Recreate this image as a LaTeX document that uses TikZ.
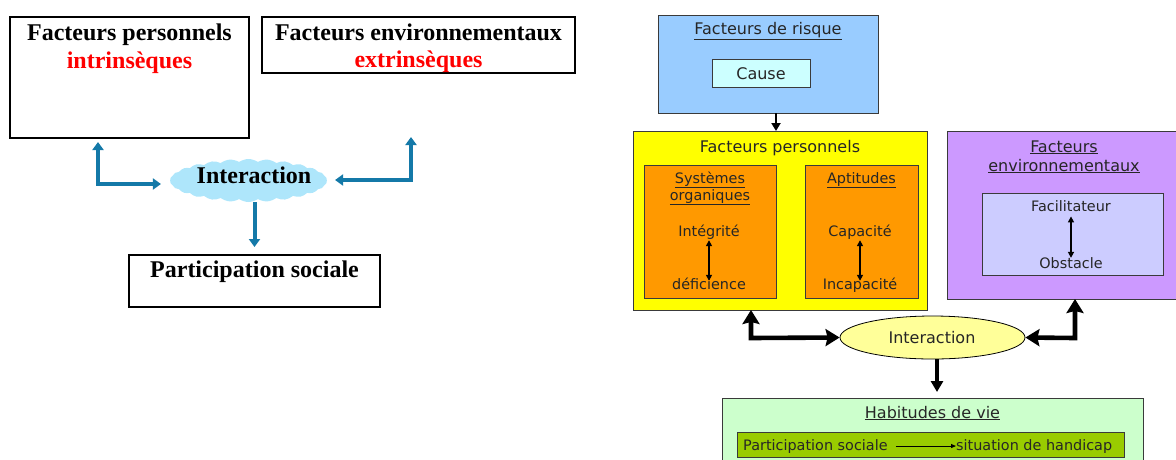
\documentclass[tikz,border=0pt]{standalone}
\usepackage{fontspec}
\setmainfont{Liberation Serif}
\newfontfamily\sansf{DejaVu Sans}
\usetikzlibrary{shapes.geometric,shapes.symbols,arrows.meta}
\definecolor{bluearr}{HTML}{1479A8}
\definecolor{cloudc}{HTML}{AEE6FB}
\definecolor{risk}{HTML}{99CCFF}
\definecolor{causec}{HTML}{CCFFFF}
\definecolor{yel}{HTML}{FFFF00}
\definecolor{orng}{HTML}{FF9900}
\definecolor{purp}{HTML}{CC99FF}
\definecolor{facc}{HTML}{CCCCFF}
\definecolor{ellc}{HTML}{FFFF99}
\definecolor{habc}{HTML}{CCFFCC}
\definecolor{grnc}{HTML}{99CC00}
\definecolor{txt}{HTML}{262626}
\definecolor{bord}{HTML}{3A3A3A}
\begin{document}
\begin{tikzpicture}[x=1pt,y=-1pt,
  lbox/.style={draw=black,line width=2pt,inner sep=0pt,outer sep=0pt,anchor=north west},
  rbox/.style={draw=bord,line width=0.8pt,inner sep=0pt,outer sep=0pt,anchor=north west},
  ltxt/.style={inner sep=0pt,anchor=base,font=\fontsize{24}{28}\selectfont\bfseries},
  htxt/.style={inner sep=0pt,anchor=base,text=txt,font=\sansf\fontsize{16}{19}\selectfont},
  itxt/.style={inner sep=0pt,anchor=base,text=txt,font=\sansf\fontsize{14.4}{17}\selectfont},
  btip/.tip={Triangle[length=8pt,width=11pt]},
  barrow/.style={draw=bluearr,line width=4pt},
  ktip/.tip={Stealth[length=14pt,width=17pt,inset=2pt]},
  bigarrow/.style={draw=black,line width=4.6pt,ktip-ktip},
  smallarrow/.style={draw=black,line width=1.6pt,{Triangle[length=6pt,width=6pt]}-{Triangle[length=6pt,width=6pt]}}
]
\useasboundingbox (0,0) rectangle (1176,459);
\clip (0,0) rectangle (1176,459);

% ---------- left diagram ----------
\node[lbox,minimum width=239pt,minimum height=121pt] (b1) at (10,17) {};
\node[lbox,minimum width=313pt,minimum height=56pt] (b2) at (262,17) {};
\node[lbox,minimum width=251pt,minimum height=52pt] (b3) at (129,255) {};
\node[ltxt] (t1a) at (129.5,40) {Facteurs personnels};
\node[ltxt,text=red] (t1b) at (129.5,68) {intrinsèques};
\node[ltxt] (t2a) at (418.5,40) {Facteurs environnementaux};
\node[ltxt,text=red] (t2b) at (418.5,67) {extrinsèques};
\node[ltxt] (t3) at (254.5,277) {Participation sociale};
\node[cloud,cloud puffs=26,cloud puff arc=70,aspect=3.6,fill=cloudc,
      minimum width=157pt,minimum height=43pt,inner sep=0pt] (cl) at (248.5,180.5) {};
\node[ltxt] (clt) at (254,183) {Interaction};
\coordinate (l1top) at (98,142);
\coordinate (l1) at (98,184);
\coordinate (r1top) at (411,137);
\coordinate (r1) at (411,180);
\draw[barrow,btip-btip] (l1top) -- (l1) -- ([xshift=-9pt]cl.west |- l1);
\draw[barrow,btip-btip] (r1top) -- (r1) -- ([xshift=8pt]cl.east |- r1);
\draw[barrow,-btip] (cl.south -| b3.north) -- ([yshift=8pt]b3.north);

% ---------- right diagram ----------
\node[rbox,fill=risk,minimum width=220pt,minimum height=98pt] (fdr) at (658,15) {};
\node[rbox,fill=causec,minimum width=98pt,minimum height=28pt] (cause) at (712,59) {};
\node[htxt] (fdrt) at (768,34) {\underline{Facteurs de risque}};
\node[htxt] (causet) at (761,79) {Cause};

\node[rbox,fill=yel,minimum width=294pt,minimum height=179pt] (yb) at (633,131) {};
\node[htxt] (ybt) at (780,152) {Facteurs personnels};
\node[rbox,fill=orng,minimum width=132pt,minimum height=133pt] (sys) at (644,165) {};
\node[rbox,fill=orng,minimum width=113pt,minimum height=133pt] (apt) at (805,165) {};
\node[itxt] (syst1) at (710,183) {\underline{Systèmes}};
\node[itxt] (syst2) at (710,200) {\underline{organiques}};
\node[itxt] (integ) at (709,236) {Intégrité};
\node[itxt] (defic) at (709,289) {déficience};
\node[itxt] (aptt) at (861.5,183) {\underline{Aptitudes}};
\node[itxt] (capa) at (860,236) {Capacité};
\node[itxt] (incapa) at (860,289) {Incapacité};

\node[rbox,fill=purp,minimum width=240pt,minimum height=168pt] (env) at (947,131) {};
\node[htxt] (envt1) at (1064,152) {\underline{Facteurs}};
\node[htxt] (envt2) at (1064,171) {\underline{environnementaux}};
\node[rbox,fill=facc,minimum width=181pt,minimum height=82pt] (fac) at (982,193) {};
\node[itxt] (fact) at (1071,211) {Facilitateur};
\node[itxt] (obst) at (1071,268) {Obstacle};

\node[ellipse,draw=black,line width=0.8pt,fill=ellc,minimum width=185pt,minimum height=43pt,inner sep=0pt] (inter) at (932.5,337.5) {};
\node[htxt] (intert) at (932,343) {Interaction};

\node[rbox,fill=habc,minimum width=421pt,minimum height=80pt] (hab) at (722,398) {};
\node[htxt] (habt) at (932.5,418) {\underline{Habitudes de vie}};
\node[rbox,fill=grnc,minimum width=387pt,minimum height=25pt] (grn) at (737,432) {};
\node[itxt,anchor=base west] (ps) at (743,450) {Participation sociale};
\node[itxt,anchor=base west] (sit) at (956,450) {situation de handicap};

% connectors
\draw[draw=black,line width=2.2pt,-{Triangle[length=8pt,width=9pt]}] ([xshift=8pt]fdr.south) -- ([xshift=8pt]fdr.south |- yb.north);
\draw[smallarrow] ([yshift=-1pt]integ.south) -- ([yshift=-3.5pt]defic.north);
\draw[smallarrow] ([yshift=-1pt]capa.south) -- ([yshift=-3.5pt]incapa.north);
\draw[smallarrow] ([yshift=-5pt]fact.south) -- ([yshift=-1pt]obst.north);
\coordinate (cL) at (751,338);
\coordinate (cR) at (1075,338);
\draw[bigarrow] (cL |- yb.south) -- (cL) -- (inter.west);
\draw[bigarrow] (cR |- env.south) -- (cR) -- (inter.east);
\draw[draw=black,line width=3.8pt,-{Triangle[length=11pt,width=12pt]}] (inter.south -| 937,0) -- ([yshift=6pt]hab.north -| 937,0);
\draw[draw=black,line width=1pt,-{Triangle[length=5pt,width=4pt]}] ([xshift=8pt]ps.east) -- (sit.west);
\end{tikzpicture}
\end{document}
